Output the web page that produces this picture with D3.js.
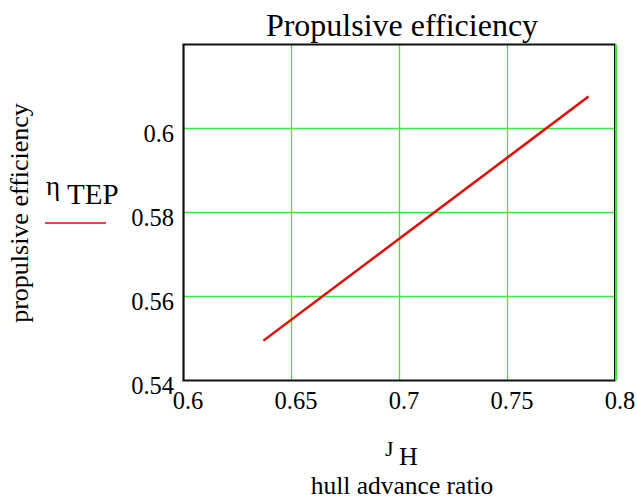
<!DOCTYPE html>
<html>
<head>
<meta charset="utf-8">
<script src="https://cdn.jsdelivr.net/npm/d3@7"></script>
<style>
  html, body { margin: 0; padding: 0; background: #fff; }
</style>
</head>
<body>
<svg id="chart" width="637" height="501"></svg>
<script>
// Hull advance ratio J_H and propulsive efficiency eta_TEP
const advanceRatio = [0.637, 0.700, 0.750, 0.7875];
const efficiency   = [0.5495, 0.5738, 0.5931, 0.6076];

const xTicks = [0.6, 0.65, 0.7, 0.75, 0.8];
const yTicks = [0.54, 0.56, 0.58, 0.6];
const xTickLabels = ["0.6", "0.65", "0.7", "0.75", "0.8"];
const yTickLabels = ["0.54", "0.56", "0.58", "0.6"];

const serif = '"Liberation Serif"';
const svg = d3.select("#chart");
const plot = { left: 183.5, right: 615.5, top: 44.5, bottom: 380.5 };

const x = d3.scaleLinear().domain([0.6, 0.8]).range([plot.left, plot.right]);
const y = d3.scaleLinear().domain([0.54, 0.62]).range([plot.bottom, plot.top]);

const gridColor = "#3ee83e";

// vertical grid lines
svg.append("g")
  .selectAll("line")
  .data(xTicks.slice(1))
  .join("line")
  .attr("x1", d => x(d)).attr("x2", d => x(d))
  .attr("y1", plot.top).attr("y2", plot.bottom)
  .attr("stroke", gridColor).attr("stroke-width", 1.3);

// horizontal grid lines
svg.append("g")
  .selectAll("line")
  .data(yTicks.slice(1))
  .join("line")
  .attr("x1", plot.left).attr("x2", plot.right)
  .attr("y1", d => y(d)).attr("y2", d => y(d))
  .attr("stroke", gridColor).attr("stroke-width", 1.3);

// plot frame: left, top and bottom in black, right edge sits on the last grid line
svg.append("path")
  .attr("d", `M${plot.right},${plot.top} H${plot.left} V${plot.bottom} H${plot.right}`)
  .attr("fill", "none").attr("stroke", "#111").attr("stroke-width", 2.2);
svg.append("line")
  .attr("x1", plot.right + 0.5).attr("x2", plot.right + 0.5)
  .attr("y1", plot.top).attr("y2", plot.bottom)
  .attr("stroke", gridColor).attr("stroke-width", 2.2);
svg.append("line")
  .attr("x1", plot.right - 1).attr("x2", plot.right - 1)
  .attr("y1", plot.top).attr("y2", plot.bottom)
  .attr("stroke", "#111").attr("stroke-width", 1);

// data line
const line = d3.line().x((d, i) => x(advanceRatio[i])).y(d => y(d));
svg.append("path")
  .datum(efficiency)
  .attr("d", line)
  .attr("fill", "none").attr("stroke", "#ee0000").attr("stroke-width", 2.4);

// tick labels
svg.append("g")
  .selectAll("text")
  .data(xTicks)
  .join("text")
  .style("font-family", serif)
  .attr("x", d => x(d) + 4.5).attr("y", 409)
  .attr("text-anchor", "middle")
  .attr("font-size", 24.5)
  .text((d, i) => xTickLabels[i]);

svg.append("g")
  .selectAll("text")
  .data(yTicks)
  .join("text")
  .style("font-family", serif)
  .attr("x", 174).attr("y", d => y(d) + 13)
  .attr("text-anchor", "end")
  .attr("font-size", 24.5)
  .text((d, i) => yTickLabels[i]);

// title
svg.append("text")
  .style("font-family", serif)
  .attr("x", 402).attr("y", 36)
  .attr("text-anchor", "middle")
  .attr("font-size", 32)
  .text("Propulsive efficiency");

// y-axis label
svg.append("text")
  .style("font-family", serif)
  .attr("transform", "translate(28,213) rotate(-90)")
  .attr("text-anchor", "middle")
  .attr("font-size", 26)
  .text("propulsive efficiency");

// legend entry
const legend = svg.append("text").style("font-family", serif).attr("x", 46).attr("y", 195);
legend.append("tspan").attr("font-size", 27).text("η");
legend.append("tspan").attr("x", 67).attr("y", 204).attr("font-size", 29).text("TEP");
svg.append("line")
  .attr("x1", 45).attr("x2", 106).attr("y1", 223).attr("y2", 223)
  .attr("stroke", "#ee0000").attr("stroke-width", 1.6);

// x-axis label
const xl = svg.append("text").style("font-family", serif).attr("x", 385).attr("y", 456);
xl.append("tspan").attr("font-size", 22).text("J");
xl.append("tspan").attr("x", 399).attr("y", 465).attr("font-size", 26).text("H");
svg.append("text")
  .style("font-family", serif)
  .attr("x", 402).attr("y", 494)
  .attr("text-anchor", "middle")
  .attr("font-size", 25.5)
  .text("hull advance ratio");
</script>
</body>
</html>
